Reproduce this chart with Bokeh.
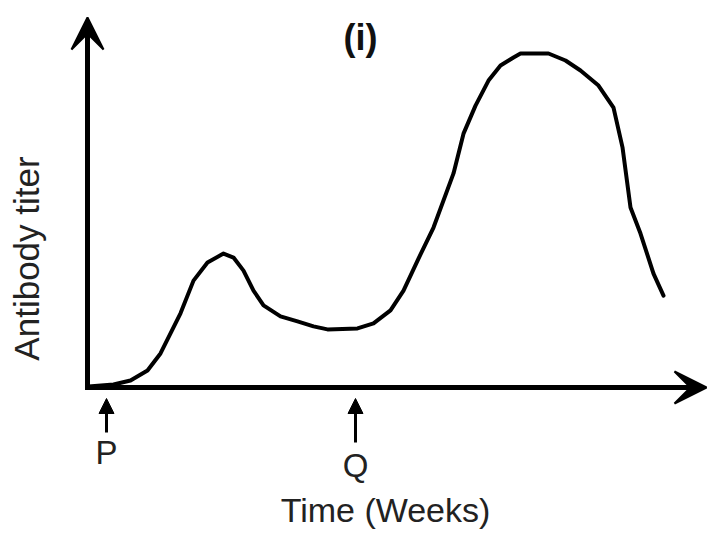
import math
from bokeh.plotting import figure
from bokeh.models import Range1d, Arrow, VeeHead, NormalHead, Label
from bokeh.embed import file_html
from bokeh.resources import INLINE

# ---- data ----
time_weeks = [0.04, 1.04, 1.72, 2.40, 2.92, 3.32, 3.72, 4.24, 4.80, 5.44, 5.84,
              6.24, 6.64, 7.04, 7.72, 8.40, 9.04, 9.60, 10.80, 11.44, 12.12,
              12.64, 13.24, 13.84, 14.64, 15.04, 15.52, 16.04, 16.52, 17.04,
              17.32, 18.44, 19.12, 19.72, 20.44, 21.04, 21.40, 21.72, 22.12,
              22.64, 23.04]
antibody_titer = [0.3, 0.9, 2.1, 5.1, 10.2, 16.2, 22.2, 32.0, 37.4, 40.1, 38.9,
                  35.0, 29.0, 24.6, 21.3, 19.8, 18.3, 17.4, 17.7, 19.2, 23.1,
                  29.0, 38.6, 47.9, 64.1, 76.0, 84.4, 91.9, 96.4, 98.8,
                  100.0, 100.0, 97.9, 94.9, 90.4, 83.8, 71.9, 53.9, 46.1,
                  34.1, 27.5]
marker_times = [0.76, 10.72]
marker_labels = ["P", "Q"]
title_text = "(i)"
x_label = "Time (Weeks)"
y_label = "Antibody titer"

# ---- layout ----
OFF = 0                    # page offset of the canvas
W, H = 708, 536
XS = 25.0                  # px per week
YS = 3.34                  # px per titer unit
X0 = -(87 - OFF) / XS      # data x at canvas left
YTOP = (387 - OFF) / YS    # data y at canvas top
x_end = X0 + W / XS
y_start = YTOP - H / YS


def xd(px):  # page pixel -> data x
    return X0 + (px - OFF) / XS


def yd(py):  # page pixel -> data y
    return YTOP - (py - OFF) / YS


p = figure(width=W, height=H, x_range=Range1d(X0, x_end),
           y_range=Range1d(y_start, YTOP), x_axis_type=None, y_axis_type=None,
           min_border=0, toolbar_location=None, output_backend="svg",
           outline_line_color=None, background_fill_color="white",
           border_fill_color="white")
p.grid.visible = False

# axes as arrows
p.add_layout(Arrow(x_start=xd(84.5), y_start=0, x_end=xd(706), y_end=0,
                   line_width=5, line_color="black",
                   end=VeeHead(size=32, fill_color="black", line_color="black",
                               line_width=2)))
p.add_layout(Arrow(x_start=0, y_start=yd(389.5), x_end=0, y_end=yd(17),
                   line_width=5, line_color="black",
                   end=VeeHead(size=32, fill_color="black", line_color="black",
                               line_width=2)))

# curve
p.line(time_weeks, antibody_titer, line_width=4, line_color="black",
       line_join="round", line_cap="round")

# event markers
shaft_bottom = [432, 442]
label_y = [452, 465]
for t, lab, sb, ly in zip(marker_times, marker_labels, shaft_bottom, label_y):
    p.add_layout(Arrow(x_start=t, y_start=yd(sb), x_end=t, y_end=yd(398),
                       line_width=3, line_color="black",
                       end=NormalHead(size=15, fill_color="black",
                                      line_color="black", line_width=1)))
    p.add_layout(Label(x=t, y=yd(ly), text=lab, text_align="center",
                       text_baseline="middle", text_font="Liberation Sans",
                       text_font_size="33px", text_color="#222222"))

FONT = "Liberation Sans"
p.add_layout(Label(x=xd(360), y=yd(37), text=title_text, text_align="center",
                   text_baseline="middle", text_font=FONT,
                   text_font_style="bold", text_font_size="36px",
                   text_color="#111111"))
p.add_layout(Label(x=xd(385), y=yd(509), text=x_label, text_align="center",
                   text_baseline="middle", text_font=FONT,
                   text_font_size="34px", text_color="#222222"))
p.add_layout(Label(x=xd(26), y=yd(258), text=y_label, text_align="center",
                   text_baseline="middle", text_font=FONT, angle=math.pi / 2,
                   text_font_size="35px", text_color="#222222"))

open("out.html", "w").write(file_html(p, INLINE))
